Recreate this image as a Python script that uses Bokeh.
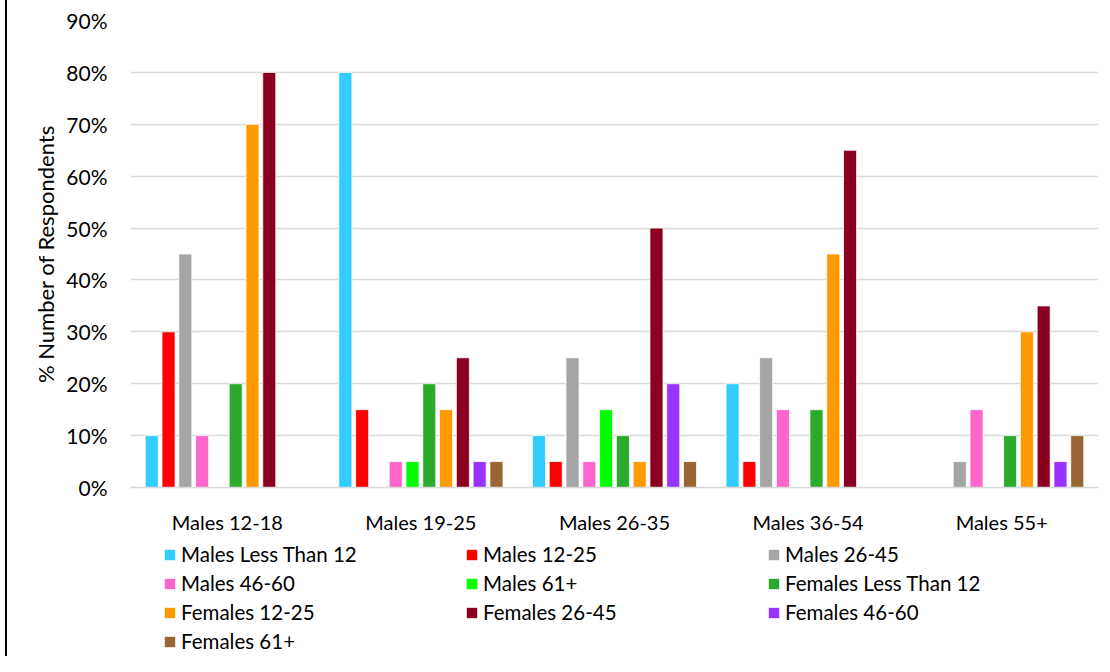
from bokeh.plotting import figure
from bokeh.layouts import column
from bokeh.models import (ColumnDataSource, FactorRange, Range1d, FixedTicker,
                          NumeralTickFormatter, Legend, LegendItem)
from bokeh.transform import dodge
from bokeh.embed import file_html
from bokeh.resources import INLINE

categories = ["Males 12-18", "Males 19-25", "Males 26-35", "Males 36-54", "Males 55+"]

series_names = ["Males Less Than 12", "Males 12-25", "Males 26-45", "Males 46-60",
                "Males 61+", "Females Less Than 12", "Females 12-25", "Females 26-45",
                "Females 46-60", "Females 61+"]

males_lt12   = [0.10, 0.80, 0.10, 0.20, 0.00]
males_12_25  = [0.30, 0.15, 0.05, 0.05, 0.00]
males_26_45  = [0.45, 0.00, 0.25, 0.25, 0.05]
males_46_60  = [0.10, 0.05, 0.05, 0.15, 0.15]
males_61     = [0.00, 0.05, 0.15, 0.00, 0.00]
females_lt12 = [0.20, 0.20, 0.10, 0.15, 0.10]
females_12_25 = [0.70, 0.15, 0.05, 0.45, 0.30]
females_26_45 = [0.80, 0.25, 0.50, 0.65, 0.35]
females_46_60 = [0.00, 0.05, 0.20, 0.00, 0.05]
females_61    = [0.00, 0.05, 0.05, 0.00, 0.10]

series_values = [males_lt12, males_12_25, males_26_45, males_46_60, males_61,
                 females_lt12, females_12_25, females_26_45, females_46_60, females_61]

colors = ["#33CCFF", "#FF0000", "#A5A5A5", "#FF66CC", "#00FF00",
          "#2CAA2C", "#FF9900", "#8B0020", "#9933FF", "#996633"]

y_ticks = [i / 10 for i in range(10)]
y_title = "% Number of Respondents"

FONT = "Lato"

data = {"cat": categories}
for i, vals in enumerate(series_values):
    data[f"s{i}"] = vals
source = ColumnDataSource(data)

p = figure(x_range=FactorRange(*categories), y_range=Range1d(0, 0.9),
           width=1094, height=536, output_backend="svg", toolbar_location=None,
           min_border_left=123, min_border_right=3, min_border_top=20,
           min_border_bottom=44, title=y_title, title_location="left")
p.x_range.range_padding = 0

p.title.text_font = FONT
p.title.text_font_size = "22px"
p.title.text_font_style = "normal"
p.title.text_color = "#000000"
p.title.align = "center"
p.title.offset = 42
p.title.standoff = 10

step = 16.7 / 192.6
bw = 13.0 / 192.6
for i in range(10):
    off = (i - 4.5) * step
    p.vbar(x=dodge("cat", off, range=p.x_range), top=f"s{i}", width=bw,
           source=source, fill_color=colors[i], line_color="white",
           line_width=0.8)

p.outline_line_color = None
p.xgrid.grid_line_color = None
p.ygrid.grid_line_color = "#D9D9D9"
p.ygrid.grid_line_width = 1.5

p.yaxis.ticker = FixedTicker(ticks=y_ticks)
p.yaxis.formatter = NumeralTickFormatter(format="0%")
p.yaxis.axis_line_color = None
p.yaxis.major_tick_line_color = None
p.yaxis.minor_tick_line_color = None
p.yaxis.major_label_standoff = 17
p.yaxis.major_label_text_font = FONT
p.yaxis.major_label_text_font_size = "21px"
p.yaxis.major_label_text_color = "#000000"

p.xaxis.axis_line_color = "#D9D9D9"
p.xaxis.axis_line_width = 1.5
p.xaxis.major_tick_line_color = None
p.xaxis.minor_tick_line_color = None
p.xaxis.major_label_standoff = 16
p.xaxis.major_label_text_font = FONT
p.xaxis.major_label_text_font_size = "20px"
p.xaxis.major_label_text_color = "#000000"

# legend panel: a second figure below the chart, whose bars lie outside its view
lf = figure(x_range=FactorRange(*categories), y_range=Range1d(1, 2),
            width=1094, height=120, output_backend="svg", toolbar_location=None,
            min_border_left=0, min_border_right=0, min_border_top=0,
            min_border_bottom=0)
lf.x_range.range_padding = 0
lf.axis.visible = False
lf.grid.grid_line_color = None
lf.outline_line_color = None

swatches = []
for i in range(10):
    off = (i - 4.5) * step
    r = lf.vbar(x=dodge("cat", off, range=lf.x_range), top=f"s{i}", width=bw,
                source=source, fill_color=colors[i], line_color=None)
    swatches.append(r)

items = [LegendItem(label=series_names[i], renderers=[swatches[i]]) for i in range(10)]
legend = Legend(items=items, orientation="horizontal", ncols=3,
                location=(33, 3), border_line_color=None,
                background_fill_alpha=0, glyph_width=13, glyph_height=13,
                label_standoff=5, label_width=279, label_height=20, spacing=5,
                padding=0, margin=0, label_text_font=FONT,
                label_text_font_size="20.5px", label_text_color="#000000")
lf.add_layout(legend, "center")

layout = column(p, lf, spacing=0,
                styles={"border-left": "2px solid black", "margin-left": "5px"})

open("out.html", "w").write(file_html(layout, INLINE))
